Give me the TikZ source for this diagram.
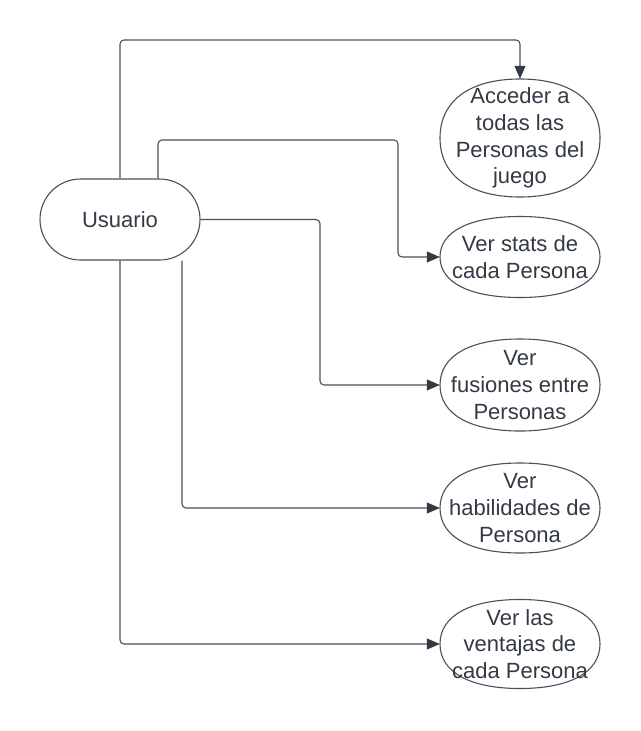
\documentclass[tikz,border=0pt]{standalone}
\usepackage{fontspec}
\setmainfont{Liberation Sans}
\usetikzlibrary{arrows.meta,backgrounds}
\definecolor{ln}{HTML}{4A5058}
\definecolor{tx}{HTML}{333A45}
\newcommand\kk{0.63}
\newcommand\ucshape[4]{%
  \draw[shp] ({#1-#3},#2) .. controls ({#1-#3},{#2-\kk*#4}) and ({#1-\kk*#3},{#2-#4}) .. (#1,{#2-#4})
    .. controls ({#1+\kk*#3},{#2-#4}) and ({#1+#3},{#2-\kk*#4}) .. ({#1+#3},#2)
    .. controls ({#1+#3},{#2+\kk*#4}) and ({#1+\kk*#3},{#2+#4}) .. (#1,{#2+#4})
    .. controls ({#1-\kk*#3},{#2+#4}) and ({#1-#3},{#2+\kk*#4}) .. ({#1-#3},#2) -- cycle;}
\begin{document}
\begin{tikzpicture}[x=1pt,y=-1pt,
  txt/.style={text=tx,font=\fontsize{22pt}{26.7pt}\selectfont,align=center,inner sep=0pt},
  ucnode/.style={txt,minimum width=160pt},
  shp/.style={draw=ln,line width=1.1pt,fill=white},
  term/.style={txt,draw=ln,line width=1.1pt,fill=white,minimum width=160pt,minimum height=81pt,rounded corners=40.5pt},
  conn/.style={draw=ln,line width=1.1pt,rounded corners=4pt,-{Triangle[length=13pt,width=11pt,fill=tx,color=tx]}}]
\useasboundingbox (0,0) rectangle (640,731);
\node[term] (u) at (120,219.5) {Usuario};
\ucshape{520}{138}{80}{59}
\node[ucnode,minimum height=118pt] (e1) at (520,138) {Acceder a\\todas las\\Personas del\\juego};
\ucshape{520}{257}{80}{40.5}
\node[ucnode,minimum height=81pt] (e2) at (520,257) {Ver stats de\\cada Persona};
\ucshape{520}{385}{80}{46}
\node[ucnode,minimum height=92pt] (e3) at (520,385) {Ver\\fusiones entre\\Personas};
\ucshape{520}{508}{80}{45}
\node[ucnode,minimum height=90pt] (e4) at (520,508) {Ver\\habilidades de\\Persona};
\ucshape{520}{644}{80}{44.5}
\node[ucnode,minimum height=89pt] (e5) at (520,644) {Ver las\\ventajas de\\cada Persona};
\begin{scope}[on background layer]
\draw[conn] (u.north) -- (120,40) -- (520,40) -- (e1.north);
\draw[conn] ([xshift=38pt]u.north) -- (158,140) -- (398,140) -- (398,257) -- (e2.west);
\draw[conn] (u.east) -- (320,219.5) -- (320,385) -- (e3.west);
\draw[conn] ([xshift=62pt]u.south) -- (182,508) -- (e4.west);
\draw[conn] (u.south) -- (120,644) -- (e5.west);
\end{scope}
\end{tikzpicture}
\end{document}
